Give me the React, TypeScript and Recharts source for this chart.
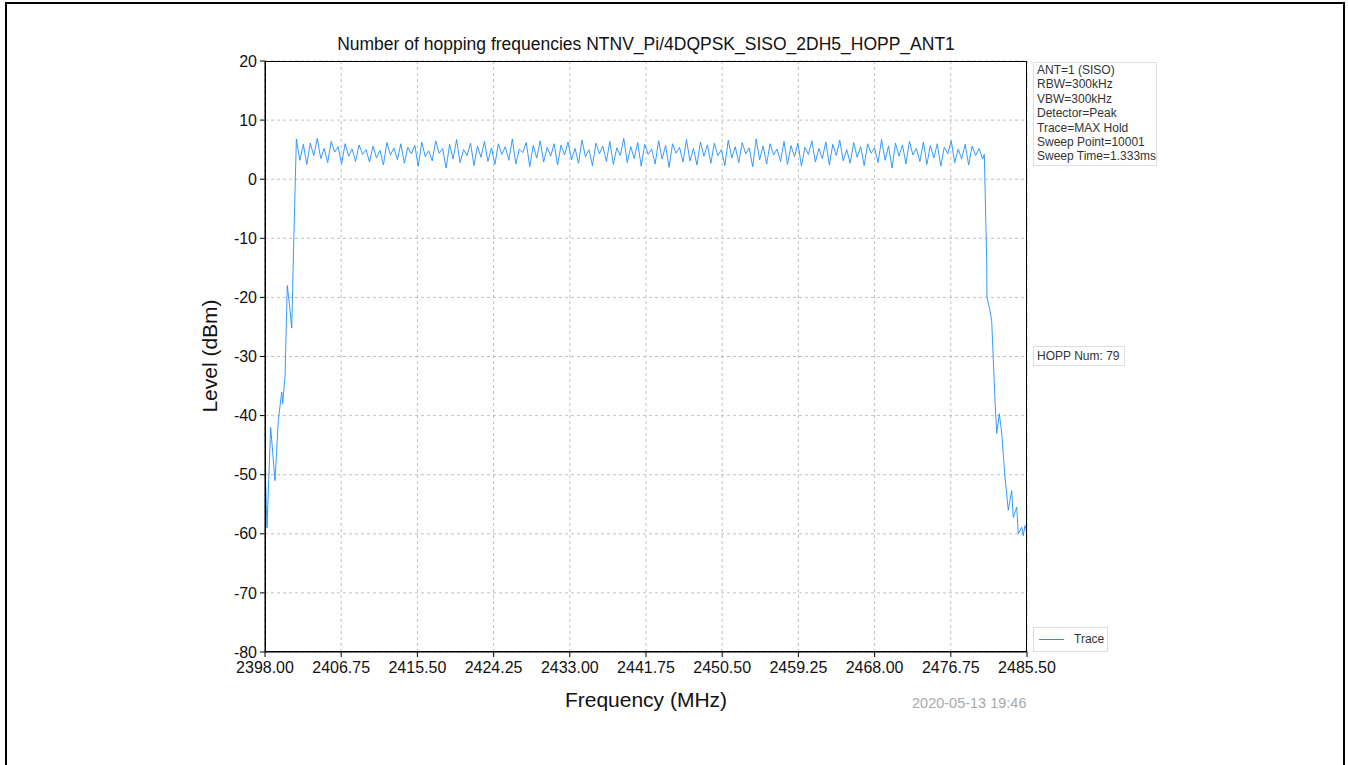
import React from "react";
import { LineChart, Line, XAxis, YAxis, CartesianGrid } from "recharts";

const TITLE = "Number of hopping frequencies NTNV_Pi/4DQPSK_SISO_2DH5_HOPP_ANT1";
const X_TICKS = [2398.0, 2406.75, 2415.5, 2424.25, 2433.0, 2441.75, 2450.5, 2459.25, 2468.0, 2476.75, 2485.5];
const Y_TICKS = [-80, -70, -60, -50, -40, -30, -20, -10, 0, 10, 20];
const INFO_LINES = [
  "ANT=1 (SISO)",
  "RBW=300kHz",
  "VBW=300kHz",
  "Detector=Peak",
  "Trace=MAX Hold",
  "Sweep Point=10001",
  "Sweep Time=1.333ms",
];
const HOPP_TEXT = "HOPP Num: 79";
const DATE_TEXT = "2020-05-13 19:46";

// Lower band edge (frequency MHz, level dBm)
const LEFT_EDGE_FREQ = [2398.0, 2398.23, 2398.65, 2399.15, 2399.53, 2399.92, 2400.03, 2400.3, 2400.56, 2400.79, 2401.07, 2401.25];
const LEFT_EDGE_LEVEL = [-48, -59, -42, -51, -40.8, -36, -38, -33.4, -18, -21, -25.2, -13.7];

// In-band hopping region, sampled every 0.4 MHz starting at 2401.6 MHz
const BAND_START = 2401.6;
const BAND_STEP = 0.4;
const BAND_LEVEL = [
  6.8, 3.2, 5.9, 2.5, 6.1, 4.0, 6.9, 3.5, 5.2, 2.8, 6.4, 4.6, 5.5, 2.6, 6.0, 3.9, 5.1, 3.0, 5.8, 4.2,
  5.0, 2.9, 5.6, 3.6, 4.9, 2.4, 6.2, 4.1, 5.3, 3.3, 6.0, 2.7, 5.4, 4.3, 5.7, 2.2, 6.3, 3.8, 4.8, 3.1,
  6.5, 4.4, 5.2, 1.9, 5.9, 3.4, 6.7, 2.8, 5.0, 4.0, 6.1, 2.3, 5.6, 3.7, 6.4, 3.0, 5.3, 2.5, 6.0, 4.2,
  5.5, 3.2, 6.8, 2.6, 5.1, 4.5, 6.2, 2.1, 5.7, 3.6, 6.5, 2.9, 5.4, 3.9, 6.0, 2.4, 5.8, 4.1, 6.3, 3.3,
  5.2, 2.7, 6.6, 3.8, 5.0, 2.3, 6.1, 4.3, 5.6, 3.0, 6.4, 2.5, 5.3, 4.0, 6.9, 2.8, 5.5, 3.5, 6.2, 2.2,
  5.9, 4.2, 5.1, 2.6, 6.5, 3.4, 5.7, 2.0, 6.0, 4.4, 5.4, 2.9, 6.7, 3.1, 5.2, 2.4, 6.3, 3.9, 5.8, 2.7,
  6.1, 4.0, 5.0, 2.3, 6.6, 3.6, 5.5, 2.8, 6.2, 4.3, 5.3, 2.1, 6.8, 3.3, 5.6, 2.6, 6.0, 4.1, 5.1, 3.0,
  6.4, 2.5, 5.7, 3.8, 6.1, 2.2, 5.4, 4.2, 6.5, 2.9, 5.2, 3.5, 6.3, 2.4, 5.9, 4.0, 6.6, 3.1, 5.0, 2.7,
  6.2, 3.7, 5.5, 2.3, 6.0, 4.4, 5.3, 2.8, 6.7, 3.2, 5.6, 1.9, 6.1, 3.9, 5.8, 2.6, 6.4, 4.1, 5.2, 3.0,
  6.3, 2.5, 5.7, 3.6, 6.0, 2.2, 5.4, 4.3, 6.5, 2.8, 5.1, 3.4, 5.9, 2.4, 5.6, 4.0, 5.2, 3.4,
];

// Upper band edge
const RIGHT_EDGE_FREQ = [2480.6, 2480.87, 2480.9, 2481.25, 2481.45, 2481.83, 2482.02, 2482.32, 2482.6, 2482.97, 2483.35, 2483.74, 2483.93, 2484.32, 2484.5, 2484.89, 2485.07, 2485.27, 2485.47];
const RIGHT_EDGE_LEVEL = [4.2, -13.7, -19.9, -22.2, -24.1, -37.5, -43, -39.7, -43, -50.4, -56, -52.7, -57.2, -55.5, -60, -58.9, -60.3, -58.6, -59.7];

const data: { f: number; v: number }[] = [];
LEFT_EDGE_FREQ.forEach((f, i) => data.push({ f, v: LEFT_EDGE_LEVEL[i] }));
BAND_LEVEL.forEach((v, i) => data.push({ f: +(BAND_START + i * BAND_STEP).toFixed(2), v }));
RIGHT_EDGE_FREQ.forEach((f, i) => data.push({ f, v: RIGHT_EDGE_LEVEL[i] }));

const W = 1348;
const H = 765;
const PLOT_L = 265;
const PLOT_R = 1027;
const PLOT_T = 61;
const PLOT_B = 652;
const FONT = "'Liberation Sans', Arial, sans-serif";

export default function App() {
  return (
    <div style={{ position: "absolute", left: 0, top: 0, width: W, height: H, background: "#fff", fontFamily: FONT, overflow: "hidden" }}>
      <div style={{ position: "absolute", left: 5, top: 2, width: 1336, height: 800, border: "2px solid #000" }} />
      <div style={{ position: "absolute", left: 0, top: 34, width: 1292, textAlign: "center", fontSize: 17.5, color: "#111", whiteSpace: "nowrap" }}>{TITLE}</div>
      <LineChart
        width={W}
        height={H}
        data={data}
        margin={{ top: PLOT_T, right: W - PLOT_R, bottom: H - PLOT_B - 30, left: PLOT_L - 60 }}
        style={{ position: "absolute", left: 0, top: 0 }}
      >
        <CartesianGrid stroke="#b0b0b0" strokeDasharray="3 3" strokeWidth={0.8} />
        <XAxis
          type="number"
          dataKey="f"
          domain={[2398, 2485.5]}
          ticks={X_TICKS}
          tickFormatter={(v: number) => v.toFixed(2)}
          height={30}
          allowDataOverflow
          stroke="#000"
          tickSize={5}
          tick={{ fill: "#111", fontSize: 16, fontFamily: FONT }}
          tickMargin={5}
          interval={0}
        />
        <YAxis
          type="number"
          domain={[-80, 20]}
          ticks={Y_TICKS}
          width={60}
          allowDataOverflow
          stroke="#000"
          tickSize={5}
          tick={{ fill: "#111", fontSize: 16, fontFamily: FONT }}
          tickMargin={3}
          interval={0}
        />
        <Line
          type="linear"
          dataKey="v"
          stroke="#1e90ff"
          strokeWidth={0.9}
          dot={false}
          isAnimationActive={false}
        />
      </LineChart>
      <div style={{ position: "absolute", left: PLOT_L, top: PLOT_T, width: PLOT_R - PLOT_L, height: PLOT_B - PLOT_T, border: "1px solid #000", boxSizing: "border-box", pointerEvents: "none" }} />
      <div style={{ position: "absolute", left: 0, top: 688, width: 1292, textAlign: "center", fontSize: 21, color: "#111" }}>Frequency (MHz)</div>
      <div style={{ position: "absolute", left: 210, top: 356, transform: "translate(-50%, -50%) rotate(-90deg)", fontSize: 21, color: "#111", whiteSpace: "nowrap" }}>Level (dBm)</div>
      <div style={{ position: "absolute", left: 1033, top: 62, width: 124, height: 104, border: "1px solid #ddd", boxSizing: "border-box", padding: "0 0 0 3px", fontSize: 12, lineHeight: "14.4px", color: "#333" }}>
        {INFO_LINES.map((t) => (
          <div key={t} style={{ whiteSpace: "nowrap" }}>{t}</div>
        ))}
      </div>
      <div style={{ position: "absolute", left: 1033, top: 346, width: 92, height: 20, border: "1px solid #ddd", boxSizing: "border-box", fontSize: 12, lineHeight: "18px", paddingLeft: 3, color: "#333", whiteSpace: "nowrap" }}>{HOPP_TEXT}</div>
      <div style={{ position: "absolute", left: 1033, top: 627, width: 75, height: 25, border: "1px solid #ddd", boxSizing: "border-box", fontSize: 12, color: "#333" }}>
        <div style={{ position: "absolute", left: 5, top: 11, width: 25, height: 0, borderTop: "1.5px solid #1e90ff" }} />
        <div style={{ position: "absolute", left: 40, top: 4, lineHeight: "14px" }}>Trace</div>
      </div>
      <div style={{ position: "absolute", left: 912, top: 695, fontSize: 14.5, color: "#aaa", whiteSpace: "nowrap" }}>{DATE_TEXT}</div>
    </div>
  );
}
